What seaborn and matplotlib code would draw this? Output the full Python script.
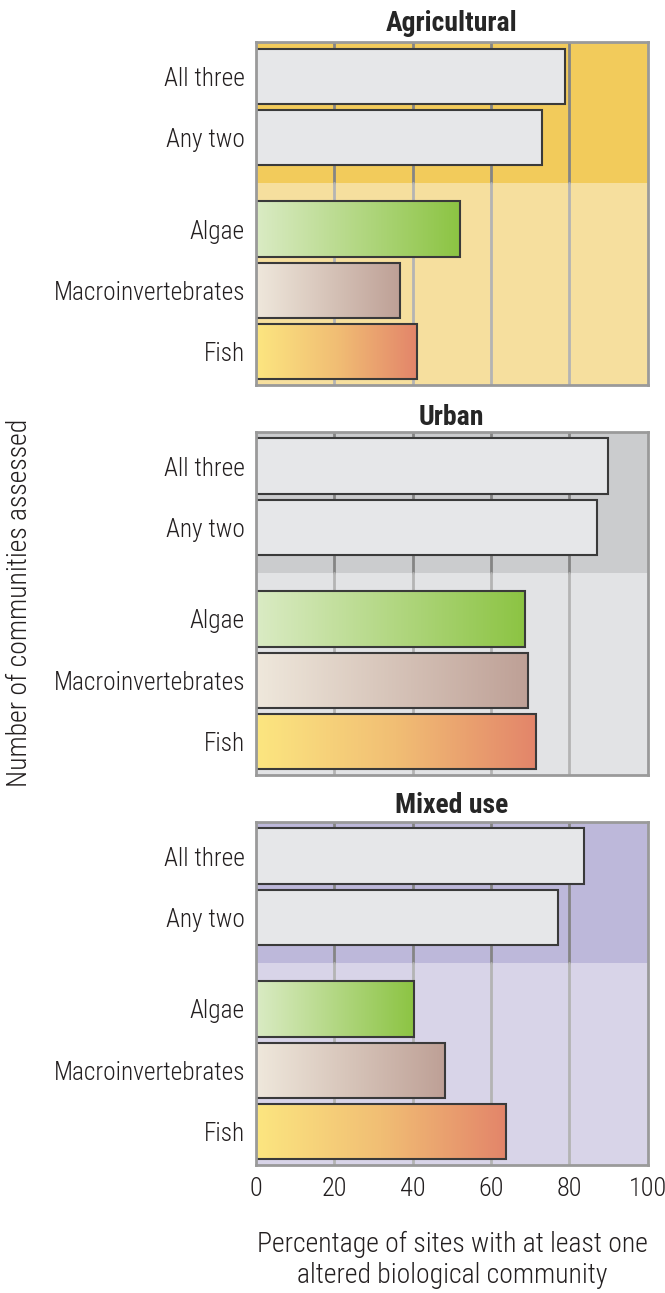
import numpy as np
import seaborn as sns
import matplotlib.pyplot as plt
from matplotlib.colors import LinearSegmentedColormap

# values
panels = ["Agricultural", "Urban", "Mixed use"]
groups = ["All three", "Any two", "Algae", "Macroinvertebrates", "Fish"]
row_pos = [0, 1, 2.5, 3.5, 4.5]
agricultural = [79, 73, 52, 36.7, 41]
urban = [89.8, 87, 68.6, 69.4, 71.4]
mixed_use = [83.7, 77, 40.3, 48.2, 63.8]
xticks = [0, 20, 40, 60, 80, 100]

# background shades: (top band, lower band)
shades = [("#F2CB5B", "#F6DF9E"), ("#CBCCCE", "#E2E3E5"), ("#BDB8DA", "#D8D4E8")]
gradients = {
    2: LinearSegmentedColormap.from_list("algae", ["#DAEBC4", "#8CC443"]),
    3: LinearSegmentedColormap.from_list("macro", ["#EFE8DC", "#BEA096"]),
    4: LinearSegmentedColormap.from_list("fish", ["#FCE680", "#F1BE74", "#E3856A"]),
}

sns.set_theme(style="white")
plt.rcParams["font.family"] = ["Roboto Condensed", "Liberation Sans Narrow", "Roboto", "DejaVu Sans"]
plt.rcParams["font.weight"] = "light"

fig = plt.figure(figsize=(6.65, 12.93), dpi=100)
ylo, yhi, split = 5.05, -0.55, 1.75
frac = (ylo - split) / (ylo - yhi)

for k, (title, vals) in enumerate(zip(panels, [agricultural, urban, mixed_use])):
    bottom = [0.7022, 0.4006, 0.099][k]
    ax = fig.add_axes([0.385, bottom, 0.589, 0.2650])
    ax.axhspan(yhi, split, color=shades[k][0], zorder=0, lw=0)
    ax.axhspan(split, ylo, color=shades[k][1], zorder=0, lw=0)
    for x in xticks[1:-1]:
        ax.axvline(x, ymin=frac, ymax=1, color="#858585", lw=2, zorder=0.5)
        ax.axvline(x, ymin=0, ymax=frac, color="#b4b4b4", lw=2, zorder=0.5)

    n_before = len(ax.patches)
    sns.barplot(x=vals, y=row_pos, orient="h", native_scale=True, width=0.9,
                color="#E6E7E9", edgecolor="#3a3a3a", linewidth=1.5,
                saturation=1, ax=ax)
    bars = ax.patches[n_before:]

    for i, p in enumerate(bars):
        p.set_zorder(3)
        if i in gradients:
            x0, y0, w, h = p.get_x(), p.get_y(), p.get_width(), p.get_height()
            ax.imshow(np.linspace(0, 1, 256)[None, :], cmap=gradients[i],
                      extent=[x0, x0 + w, y0 + h, y0], aspect="auto", zorder=2.5)
            p.set_facecolor("none")

    ax.set_xlim(0, 100)
    ax.set_ylim(ylo, yhi)
    ax.set_xticks(xticks)
    ax.set_yticks(row_pos)
    ax.set_yticklabels(groups, fontsize=18.3, color="#231f20")
    ax.set_xlabel("")
    ax.set_ylabel("")
    ax.tick_params(axis="y", length=0, pad=8)
    ax.tick_params(axis="x", length=0, pad=9)
    if k < 2:
        ax.set_xticklabels([])
    else:
        ax.set_xticklabels([str(t) for t in xticks], fontsize=19, color="#231f20")
    for s in ax.spines.values():
        s.set_color("#9a9a9a")
        s.set_linewidth(2)
        s.set_zorder(4)
    ax.set_title(title, fontsize=20, fontweight="bold", pad=[8, 5, 7][k])

fig.text(0.03, 0.534, "Number of communities assessed", rotation=90,
         ha="center", va="center", fontsize=20, color="#231f20")
fig.text(0.68, 0.0255, "Percentage of sites with at least one\naltered biological community",
         ha="center", va="center", fontsize=20, color="#231f20", linespacing=1.2)

fig.savefig("out.png", dpi=100)
